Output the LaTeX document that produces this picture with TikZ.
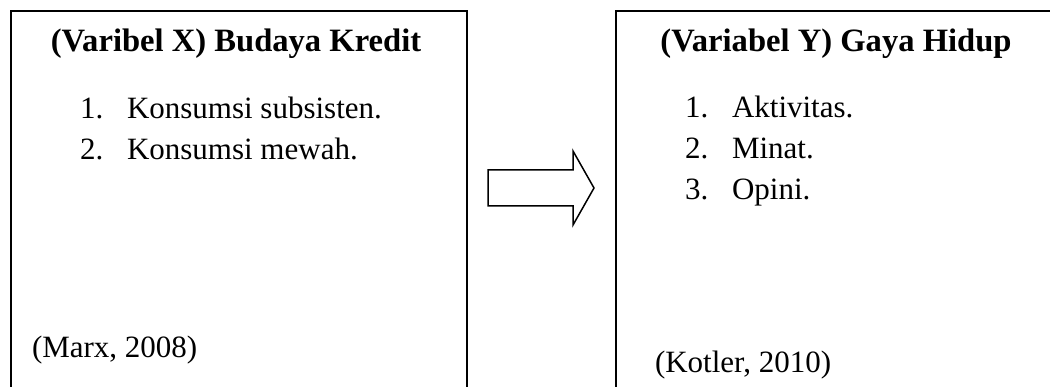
\documentclass[tikz,border=0pt]{standalone}
\usepackage{fontspec}
\setmainfont{Liberation Serif}
\begin{document}
\begin{tikzpicture}[x=1pt,y=-1pt,
  txt/.style={font=\fontsize{31}{37}\selectfont, inner sep=0pt, outer sep=0pt},
  ttl/.style={font=\fontsize{32.6}{38}\selectfont\bfseries, inner sep=0pt, outer sep=0pt},
  frame/.style={draw=black, line width=2pt, rectangle, inner sep=0pt, anchor=north west},
  blockarrow/.style={draw=black, line width=1.5pt, fill=white, line join=miter}]
\useasboundingbox (0,0) rectangle (1050,387);
\clip (0,0) rectangle (1050,387);
% boxes (bottom and right edges run off the page)
\node[frame, minimum width=456pt, minimum height=420pt] (boxX) at (10,10) {};
\node[frame, minimum width=442pt, minimum height=420pt] (boxY) at (615,10) {};
% left box texts
\node[ttl, anchor=base] (ttlX) at (236,52) {(Varibel X) Budaya Kredit};
\node[txt, anchor=base west] (nx1) at (80,119) {1.};
\node[txt, anchor=base west] (ix1) at (127,119) {Konsumsi subsisten.};
\node[txt, anchor=base west] (nx2) at (80,160) {2.};
\node[txt, anchor=base west] (ix2) at (127,160) {Konsumsi mewah.};
\node[txt, anchor=base west] (srcX) at (32,358) {(Marx, 2008)};
% right box texts
\node[ttl, anchor=base] (ttlY) at (836,52) {(Variabel Y) Gaya Hidup};
\node[txt, anchor=base west] (ny1) at (685,118) {1.};
\node[txt, anchor=base west] (iy1) at (732,118) {Aktivitas.};
\node[txt, anchor=base west] (ny2) at (685,159) {2.};
\node[txt, anchor=base west] (iy2) at (732,159) {Minat.};
\node[txt, anchor=base west] (ny3) at (685,200) {3.};
\node[txt, anchor=base west] (iy3) at (732,200) {Opini.};
\node[txt, anchor=base west] (srcY) at (655,373) {(Kotler, 2010)};
% block arrow
\coordinate (aL1) at (488,170);
\coordinate (aH1) at (573,170);
\coordinate (aT1) at (573,151);
\coordinate (aTip) at (594,188);
\coordinate (aT2) at (573,225);
\coordinate (aH2) at (573,206);
\coordinate (aL2) at (488,206);
\draw[blockarrow] (aL1) -- (aH1) -- (aT1) -- (aTip) -- (aT2) -- (aH2) -- (aL2) -- cycle;
\end{tikzpicture}
\end{document}
